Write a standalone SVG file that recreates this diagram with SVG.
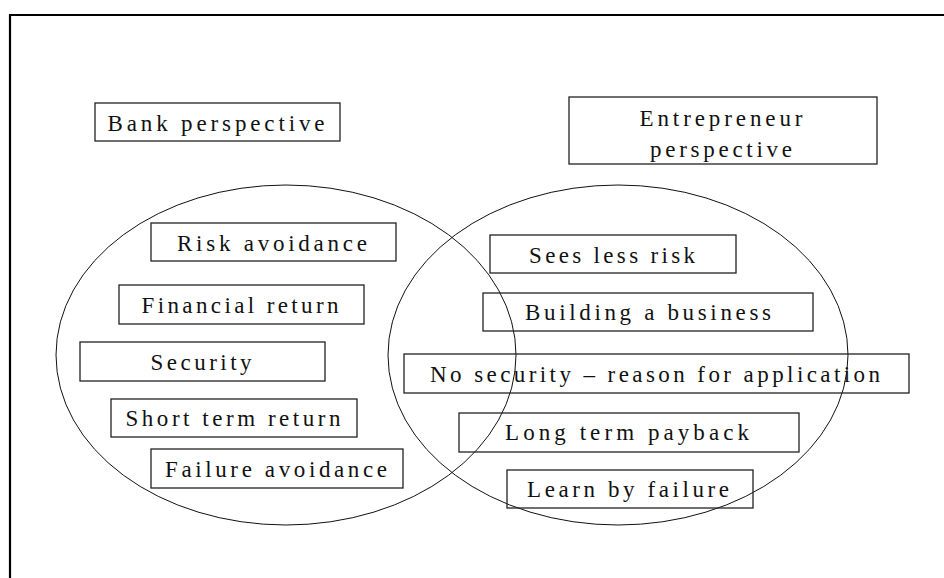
<svg xmlns="http://www.w3.org/2000/svg" width="944" height="578" viewBox="0 0 944 578">
<style>
.box{fill:none;stroke:#222;stroke-width:1.3}
.ell{fill:none;stroke:#111;stroke-width:1}
.t{font-family:"Liberation Serif","Times New Roman",serif;font-size:23px;fill:#111;text-anchor:middle}
</style>
<rect width="944" height="578" fill="#fff"/>
<path d="M10,578 V15 H944" fill="none" stroke="#000" stroke-width="2.2"/>
<g id="bank-perspective"><rect class="box" x="95" y="103" width="245" height="38"/><text class="t" x="216" y="131" textLength="217" lengthAdjust="spacing">Bank perspective</text></g>
<g id="entrepreneur-perspective"><rect class="box" x="569" y="97" width="308" height="67"/><text class="t" x="721" y="126" textLength="163" lengthAdjust="spacing">Entrepreneur</text><text class="t" x="721" y="157" textLength="142" lengthAdjust="spacing">perspective</text></g>
<g id="bank-set"><ellipse class="ell" cx="286" cy="355" rx="230" ry="170"/></g>
<g id="entrepreneur-set"><ellipse class="ell" cx="618" cy="355" rx="230" ry="170"/></g>
<g id="risk-avoidance"><rect class="box" x="151" y="223" width="245" height="38"/><text class="t" x="272" y="251" textLength="190" lengthAdjust="spacing">Risk avoidance</text></g>
<g id="financial-return"><rect class="box" x="119" y="285" width="245" height="39"/><text class="t" x="240" y="313" textLength="197" lengthAdjust="spacing">Financial return</text></g>
<g id="security"><rect class="box" x="80" y="342" width="245" height="39"/><text class="t" x="201" y="370" textLength="101" lengthAdjust="spacing">Security</text></g>
<g id="short-term-return"><rect class="box" x="111" y="399" width="246" height="38"/><text class="t" x="233" y="426" textLength="215" lengthAdjust="spacing">Short term return</text></g>
<g id="failure-avoidance"><rect class="box" x="151" y="449" width="252" height="39"/><text class="t" x="276" y="477" textLength="222" lengthAdjust="spacing">Failure avoidance</text></g>
<g id="sees-less-risk"><rect class="box" x="490" y="235" width="246" height="38"/><text class="t" x="612" y="263" textLength="166" lengthAdjust="spacing">Sees less risk</text></g>
<g id="building-a-business"><rect class="box" x="483" y="293" width="330" height="38"/><text class="t" x="648" y="320" textLength="246" lengthAdjust="spacing">Building a business</text></g>
<g id="no-security"><rect class="box" x="404" y="354" width="505" height="39"/><text class="t" x="655" y="382" textLength="450" lengthAdjust="spacing">No security – reason for application</text></g>
<g id="long-term-payback"><rect class="box" x="459" y="413" width="340" height="39"/><text class="t" x="627" y="440" textLength="244" lengthAdjust="spacing">Long term payback</text></g>
<g id="learn-by-failure"><rect class="box" x="507" y="470" width="246" height="38"/><text class="t" x="628" y="497" textLength="202" lengthAdjust="spacing">Learn by failure</text></g>
</svg>
